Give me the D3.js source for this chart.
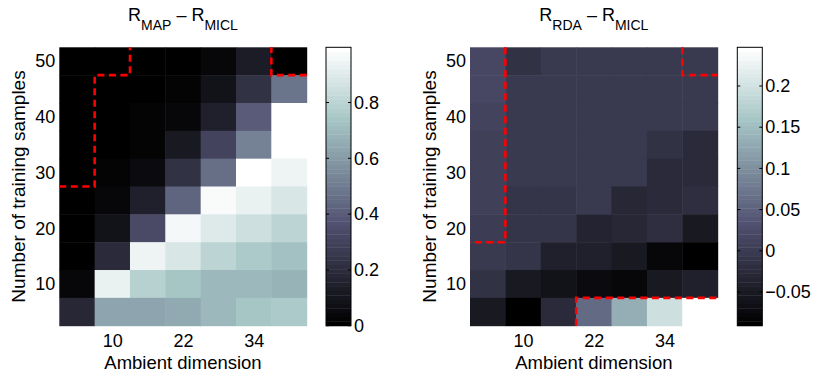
<!DOCTYPE html>
<html><head><meta charset="utf-8">
<script src="https://cdn.jsdelivr.net/npm/d3@7"></script>
<style>body{margin:0;background:#fff}text{font-family:"Liberation Sans",Arial,sans-serif;fill:#000}</style>
</head><body><svg id="c" width="817" height="377"></svg>
<script>
const dims = [4, 10, 16, 22, 28, 34, 40];
const samples = [50, 45, 40, 35, 30, 25, 20, 15, 10, 5];
const xTicks = [10, 22, 34];
const yTicks = [10, 20, 30, 40, 50];
// rows top (50) to bottom (5), columns dims
const mapDiff = [
  [0, 0, 0, 0, 0.045, 0.125, 0],
  [0, 0, 0, 0.02, 0.08, 0.225, 0.47],
  [0, 0.005, 0.02, 0.035, 0.155, 0.39, 1.0],
  [0, 0.005, 0.02, 0.11, 0.31, 0.52, 0.99],
  [0, 0.03, 0.06, 0.22, 0.46, 0.985, 0.95],
  [0, 0.04, 0.145, 0.43, 0.97, 0.93, 0.88],
  [0, 0.08, 0.33, 0.96, 0.9, 0.857, 0.8],
  [0, 0.2, 0.94, 0.876, 0.8, 0.75, 0.73],
  [0.04, 0.93, 0.79, 0.74, 0.69, 0.69, 0.68],
  [0.18, 0.63, 0.63, 0.64, 0.69, 0.74, 0.75]
];
const rdaDiff = [
  [0.018, -0.012, -0.003, -0.003, -0.004, -0.004, -0.004],
  [0.018, -0.004, -0.004, -0.004, -0.004, -0.004, -0.004],
  [0.01, -0.004, -0.005, -0.005, -0.005, -0.005, -0.005],
  [0.007, -0.005, -0.005, -0.005, -0.005, -0.012, -0.024],
  [0.007, -0.006, -0.006, -0.006, -0.006, -0.026, -0.026],
  [0.007, -0.008, -0.008, -0.004, -0.032, -0.027, -0.018],
  [0.0, -0.01, -0.01, -0.038, -0.032, -0.02, -0.049],
  [-0.003, -0.01, -0.04, -0.04, -0.049, -0.076, -0.086],
  [-0.017, -0.049, -0.061, -0.071, -0.076, -0.054, -0.039],
  [-0.05, -0.091, -0.025, 0.061, 0.136, 0.199, 0.26]
];
const mapCbTicks = [0, 0.2, 0.4, 0.6, 0.8];
const rdaCbTicks = [-0.05, 0, 0.05, 0.1, 0.15, 0.2];
const mapBoundaries = [
  [[1, 27.5], [7, 27.5], [7, 47.5], [13, 47.5], [13, 52.5]],
  [[43, 47.5], [37, 47.5], [37, 52.5]]
];
const rdaBoundaries = [
  [[7, 52.5], [7, 17.5], [1, 17.5]],
  [[37, 52.5], [37, 47.5], [43, 47.5]],
  [[19, 2.5], [19, 7.5], [43, 7.5]]
];

function bone(t) {
  t = Math.max(0, Math.min(1, t));
  const interp = (pts) => {
    for (let i = 1; i < pts.length; i++) {
      if (t <= pts[i][0]) {
        const a = pts[i - 1], b = pts[i];
        return a[1] + (b[1] - a[1]) * (t - a[0]) / (b[0] - a[0]);
      }
    }
    return 1;
  };
  const r = interp([[0, 0], [0.746032, 0.652778], [1, 1]]);
  const g = interp([[0, 0], [0.365079, 0.319444], [0.746032, 0.777778], [1, 1]]);
  const b = interp([[0, 0], [0.365079, 0.444444], [1, 1]]);
  return d3.rgb(r * 255, g * 255, b * 255).toString();
}
function quant(n) { // 64-level colormap like MATLAB
  const i = Math.max(0, Math.min(63, Math.floor(n * 64)));
  return bone(i / 63);
}

const svg = d3.select("#c");
const H = { top: 47.3, bottom: 325.7 };

function panel(opts) {
  const { x0, x1, cb0, cb1, data, domain, cbTicks, bounds, sub1, sub2, ylabX } = opts;
  const x = d3.scaleLinear().domain([1, 43]).range([x0, x1]);
  const y = d3.scaleLinear().domain([2.5, 52.5]).range([H.bottom, H.top]);
  const norm = d3.scaleLinear().domain(domain).range([0, 1]).clamp(true);
  const g = svg.append("g");
  samples.forEach((s, ri) => {
    dims.forEach((d, ci) => {
      g.append("rect")
        .attr("x", x(d - 3)).attr("y", y(s + 2.5))
        .attr("width", x(d + 3) - x(d - 3) + 0.5)
        .attr("height", y(s - 2.5) - y(s + 2.5) + 0.5)
        .attr("fill", quant(norm(data[ri][ci])));
    });
  });
  const line = d3.line().x(p => x(p[0])).y(p => y(p[1]));
  bounds.forEach(b => {
    g.append("path").attr("d", line(b)).attr("fill", "none")
      .attr("stroke", "#ff0000").attr("stroke-width", 2.6)
      .attr("stroke-dasharray", "7,4.5");
  });
  const xa = g.append("g").attr("transform", `translate(0,${H.bottom})`)
    .call(d3.axisBottom(x).tickValues(xTicks).tickSize(0).tickPadding(9));
  xa.select(".domain").remove();
  xa.selectAll("text").attr("font-size", 18).attr("font-family", "Liberation Sans, Arial");
  const ya = g.append("g").attr("transform", `translate(${x0},0)`)
    .call(d3.axisLeft(y).tickValues(yTicks).tickSize(0).tickPadding(4));
  ya.select(".domain").remove();
  ya.selectAll("text").attr("font-size", 18).attr("font-family", "Liberation Sans, Arial");

  g.append("text").attr("x", (x0 + x1) / 2).attr("y", 369).attr("text-anchor", "middle")
    .attr("font-size", 18.5).text("Ambient dimension");
  g.append("text").attr("transform", `translate(${ylabX},${(H.top + H.bottom) / 2}) rotate(-90)`)
    .attr("text-anchor", "middle").attr("font-size", 19).text("Number of training samples");

  const t = g.append("text").attr("x", (x0 + x1) / 2).attr("y", 21)
    .attr("text-anchor", "middle").attr("font-size", 18);
  t.append("tspan").text("R");
  t.append("tspan").attr("dy", 9).attr("font-size", 14).text(sub1);
  t.append("tspan").attr("dy", -9).text(" \u2013 R");
  t.append("tspan").attr("dy", 9).attr("font-size", 14).text(sub2);

  // colorbar
  const cy = d3.scaleLinear().domain(domain).range([H.bottom, H.top]);
  const cbH = (H.bottom - H.top) / 64;
  d3.range(64).forEach(i => {
    g.append("rect").attr("x", cb0).attr("width", cb1 - cb0)
      .attr("y", H.bottom - (i + 1) * cbH).attr("height", cbH + 0.4)
      .attr("fill", bone(i / 63));
  });
  g.append("rect").attr("x", cb0).attr("y", H.top).attr("width", cb1 - cb0)
    .attr("height", H.bottom - H.top).attr("fill", "none").attr("stroke", "#000").attr("stroke-width", 1);
  cbTicks.forEach(v => {
    const yy = cy(v);
    g.append("line").attr("x1", cb0).attr("x2", cb0 + 3).attr("y1", yy).attr("y2", yy).attr("stroke", "#000");
    g.append("line").attr("x1", cb1 - 3).attr("x2", cb1).attr("y1", yy).attr("y2", yy).attr("stroke", "#000");
    g.append("text").attr("x", cb1 + 3).attr("y", yy).attr("dy", "0.35em")
      .attr("font-size", 18).text(v < 0 ? "\u2212" + Math.abs(v) : String(v));
  });
}

panel({ x0: 59.3, x1: 306.7, cb0: 326, cb1: 351, data: mapDiff, domain: [0, 0.998],
  cbTicks: mapCbTicks, bounds: mapBoundaries, sub1: "MAP", sub2: "MICL", ylabX: 25 });
panel({ x0: 470, x1: 717.7, cb0: 737.3, cb1: 762.3, data: rdaDiff, domain: [-0.091, 0.247],
  cbTicks: rdaCbTicks, bounds: rdaBoundaries, sub1: "RDA", sub2: "MICL", ylabX: 436 });
</script></body></html>
